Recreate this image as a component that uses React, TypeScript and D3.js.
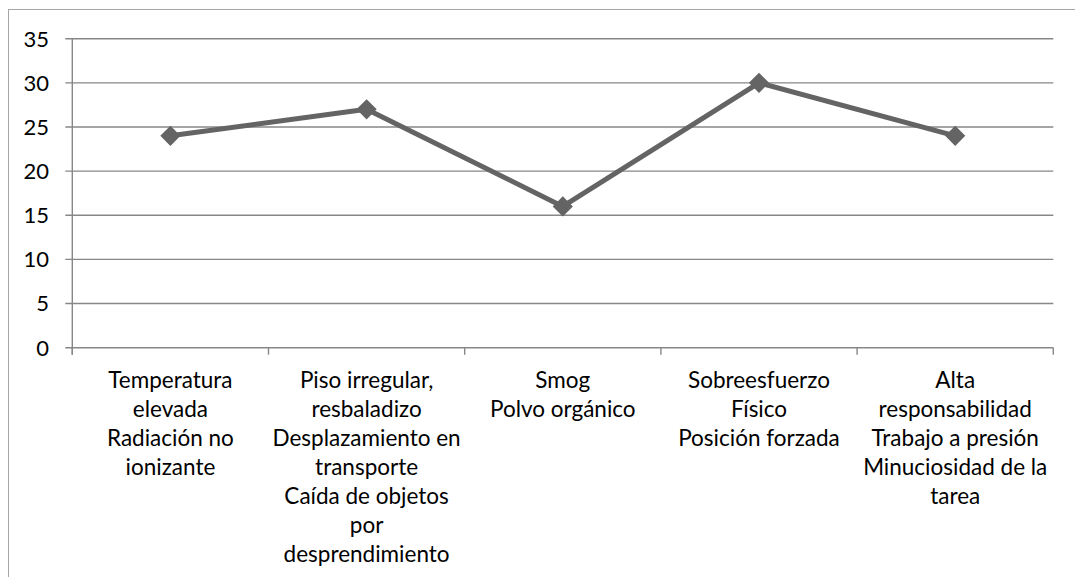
import React from "react";
import * as d3 from "d3";

const categories: string[][] = [
  ["Temperatura", "elevada", "Radiación no", "ionizante"],
  ["Piso irregular,", "resbaladizo", "Desplazamiento en", "transporte", "Caída de objetos", "por", "desprendimiento"],
  ["Smog", "Polvo orgánico"],
  ["Sobreesfuerzo", "Físico", "Posición forzada"],
  ["Alta", "responsabilidad", "Trabajo a presión", "Minuciosidad de la", "tarea"],
];
const values: number[] = [24, 27, 16, 30, 24];
const yTicks: number[] = [0, 5, 10, 15, 20, 25, 30, 35];

const W = 1075;
const H = 577;
const left = 72.3;
const right = 1053.3;
const top = 38.7;
const bottom = 347.7;
const FONT = "Lato, 'Open Sans', sans-serif";

export default function App() {
  const x = d3
    .scaleBand<number>()
    .domain(d3.range(categories.length))
    .range([left, right])
    .padding(0);
  const y = d3.scaleLinear().domain([0, 35]).range([bottom, top]);
  const cx = (i: number) => (x(i) as number) + x.bandwidth() / 2;
  const line = d3
    .line<number>()
    .x((_, i) => cx(i))
    .y((d) => y(d));
  const diamond = d3.symbol().type(d3.symbolDiamond2).size(260)() as string;
  const tickXs = d3.range(categories.length + 1).map((i) => left + i * x.bandwidth());

  return (
    <svg
      width={W}
      height={H}
      style={{ position: "absolute", left: 0, top: 0, display: "block" }}
    >
      <rect x={0} y={0} width={W} height={H} fill="#fff" />
      <rect x={8.5} y={9.5} width={W + 20} height={H + 20} fill="none" stroke="#a6a6a6" strokeWidth={1} />
      {yTicks.map((t) => (
        <g key={t}>
          <line x1={left - 7} x2={right} y1={y(t)} y2={y(t)} stroke="#878787" strokeWidth={1.4} />
          <text
            x={49}
            y={y(t)}
            dy="0.36em"
            textAnchor="end"
            fontFamily={FONT}
            fontSize={22}
            fill="#000"
          >
            {t}
          </text>
        </g>
      ))}
      <line x1={left} x2={left} y1={top} y2={bottom + 7} stroke="#878787" strokeWidth={1.4} />
      {tickXs.map((tx, i) => (
        <line key={i} x1={tx} x2={tx} y1={bottom} y2={bottom + 7} stroke="#878787" strokeWidth={1.4} />
      ))}
      {categories.map((lines, i) => (
        <text key={i} textAnchor="middle" fontFamily={FONT} fontSize={22.5} fill="#000">
          {lines.map((l, j) => (
            <tspan key={j} x={cx(i)} y={380 + j * 29} dy="0.36em">
              {l}
            </tspan>
          ))}
        </text>
      ))}
      <path d={line(values) as string} fill="none" stroke="#646464" strokeWidth={5} strokeLinejoin="round" />
      {values.map((v, i) => (
        <path key={i} d={diamond} transform={`translate(${cx(i)},${y(v)})`} fill="#646464" />
      ))}
    </svg>
  );
}
